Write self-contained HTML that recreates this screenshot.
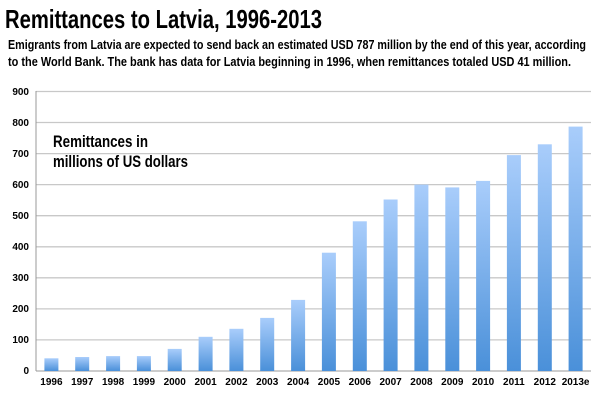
<!DOCTYPE html>
<html><head><meta charset="utf-8"><style>
html,body{margin:0;padding:0;background:#fff;}
svg{display:block;font-family:"Liberation Sans Narrow","Liberation Sans",sans-serif;font-weight:bold;}
</style></head><body>
<svg width="600" height="400" viewBox="0 0 600 400" xmlns="http://www.w3.org/2000/svg">
<defs><linearGradient id="g" x1="0" y1="0" x2="0" y2="1"><stop offset="0" stop-color="#a9cdfb"/><stop offset="1" stop-color="#4a90d9"/></linearGradient></defs>
<text x="5" y="28" font-size="26" textLength="317" lengthAdjust="spacingAndGlyphs">Remittances to Latvia, 1996-2013</text>
<text x="8" y="49" font-size="12.5" textLength="578" lengthAdjust="spacingAndGlyphs">Emigrants from Latvia are expected to send back an estimated USD 787 million by the end of this year, according</text>
<text x="8" y="66" font-size="12.5" textLength="563" lengthAdjust="spacingAndGlyphs">to the World Bank. The bank has data for Latvia beginning in 1996, when remittances totaled USD 41 million.</text>
<g stroke="#c8c8c8" stroke-width="1.3">
<line x1="36" x2="591" y1="339.9" y2="339.9"/><line x1="36" x2="591" y1="308.9" y2="308.9"/><line x1="36" x2="591" y1="277.8" y2="277.8"/><line x1="36" x2="591" y1="246.8" y2="246.8"/><line x1="36" x2="591" y1="215.7" y2="215.7"/><line x1="36" x2="591" y1="184.6" y2="184.6"/><line x1="36" x2="591" y1="153.6" y2="153.6"/><line x1="36" x2="591" y1="122.5" y2="122.5"/><line x1="36" x2="591" y1="91.5" y2="91.5"/>
</g>
<g stroke="#999" stroke-width="1"><line x1="36" x2="36" y1="91" y2="371"/><line x1="36" x2="591" y1="371" y2="371"/></g>
<g font-size="10" text-anchor="end">
<text x="29" y="374">0</text><text x="29" y="343">100</text><text x="29" y="312">200</text><text x="29" y="281">300</text><text x="29" y="250">400</text><text x="29" y="219">500</text><text x="29" y="188">600</text><text x="29" y="157">700</text><text x="29" y="126">800</text><text x="29" y="95">900</text>
</g>
<g fill="url(#g)">
<rect x="44.4" y="358.3" width="14" height="12.7"/>
<rect x="75.2" y="357" width="14" height="14"/>
<rect x="106.1" y="356.1" width="14" height="14.9"/>
<rect x="136.9" y="356.1" width="14" height="14.9"/>
<rect x="167.7" y="348.9" width="14" height="22.1"/>
<rect x="198.6" y="336.8" width="14" height="34.2"/>
<rect x="229.4" y="328.8" width="14" height="42.2"/>
<rect x="260.2" y="317.9" width="14" height="53.1"/>
<rect x="291.1" y="299.9" width="14" height="71.1"/>
<rect x="321.9" y="252.7" width="14" height="118.3"/>
<rect x="352.8" y="221.3" width="14" height="149.7"/>
<rect x="383.6" y="199.5" width="14" height="171.5"/>
<rect x="414.4" y="184.6" width="14" height="186.4"/>
<rect x="445.3" y="187.4" width="14" height="183.6"/>
<rect x="476.1" y="180.9" width="14" height="190.1"/>
<rect x="506.9" y="155.1" width="14" height="215.9"/>
<rect x="537.8" y="144.3" width="14" height="226.7"/>
<rect x="568.6" y="126.6" width="14" height="244.4"/>
</g>
<g font-size="10" text-anchor="middle">
<text x="51.4" y="385">1996</text><text x="82.2" y="385">1997</text><text x="113.1" y="385">1998</text><text x="143.9" y="385">1999</text><text x="174.7" y="385">2000</text><text x="205.6" y="385">2001</text><text x="236.4" y="385">2002</text><text x="267.2" y="385">2003</text><text x="298.1" y="385">2004</text><text x="328.9" y="385">2005</text><text x="359.8" y="385">2006</text><text x="390.6" y="385">2007</text><text x="421.4" y="385">2008</text><text x="452.3" y="385">2009</text><text x="483.1" y="385">2010</text><text x="513.9" y="385">2011</text><text x="544.8" y="385">2012</text><text x="575.6" y="385">2013e</text>
</g>
<text x="53" y="147" font-size="17" textLength="95" lengthAdjust="spacingAndGlyphs">Remittances in</text>
<text x="53" y="167" font-size="17" textLength="135" lengthAdjust="spacingAndGlyphs">millions of US dollars</text>
</svg>
</body></html>
